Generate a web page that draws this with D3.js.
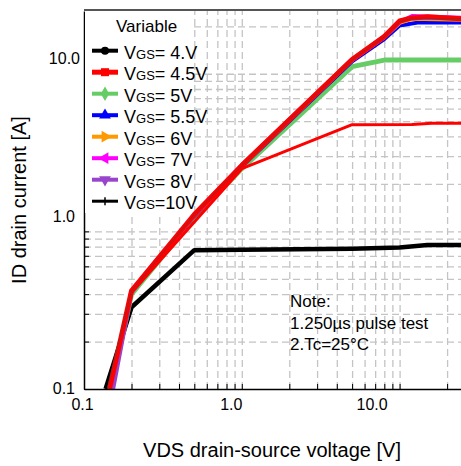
<!DOCTYPE html>
<html>
<head>
<meta charset="utf-8">
<script src="https://cdn.jsdelivr.net/npm/d3@7"></script>
<style>
  body { margin: 0; background: #fff; }
  text { font-family: "Liberation Sans", Arial, sans-serif; fill: #000; }
</style>
</head>
<body>
<div id="chart"></div>
<script>
// values (VDS in V, ID in A)
var vgsNames = ["= 4.V", "= 4.5V", "= 5V", "= 5.5V", "= 6V", "= 7V", "= 8V", "=10V"];

var vds4 = [0.137, 0.2, 0.5, 1, 5, 10, 15, 25];
var id4 = [0.1, 0.33, 0.76, 0.765, 0.775, 0.79, 0.82, 0.82];

var vds45 = [0.145, 0.2, 1, 5, 12, 16, 25];
var id45 = [0.1, 0.41, 2.5, 4.75, 4.77, 4.85, 4.85];

var vds5 = [0.148, 0.2, 0.5, 1, 5, 8, 25];
var id5 = [0.1, 0.40, 1.22, 2.5, 11.1, 12.2, 12.2];

var vds55 = [0.15, 0.2, 0.5, 1, 5, 8, 10, 13, 25];
var id55 = [0.1, 0.41, 1.25, 2.58, 12.0, 16.6, 20.2, 21.1, 21.1];

var vds6 = [0.15, 0.2, 0.5, 1, 5, 8, 10, 12, 25];
var id6 = [0.1, 0.41, 1.26, 2.6, 12.2, 17.0, 21.0, 22.3, 22.0];

var vds7 = [0.15, 0.2, 0.5, 1, 5, 8, 10, 12, 25];
var id7 = [0.1, 0.42, 1.27, 2.62, 12.3, 17.2, 21.3, 23.2, 22.6];

var vds8 = [0.153, 0.2, 0.5, 1, 5, 8, 10, 12, 25];
var id8 = [0.1, 0.41, 1.27, 2.63, 12.3, 17.3, 21.5, 22.7, 22.4];

var vds10 = [0.14, 0.2, 0.5, 1, 5, 8, 10, 12, 25];
var id10 = [0.1, 0.42, 1.28, 2.62, 12.3, 17.2, 21.4, 22.5, 22.3];

// thick red trace lying on top of the bundle
var vdsTop = [0.145, 0.2, 0.5, 1, 5, 8, 10, 12, 15, 25];
var idTop = [0.1, 0.42, 1.28, 2.62, 12.3, 17.2, 21.6, 22.6, 23.0, 22.3];

var xTickValues = [0.1, 1, 10];
var xTickLabels = ["0.1", "1.0", "10.0"];
var yTickValues = [0.1, 1, 10];
var yTickLabels = ["0.1", "1.0", "10.0"];

var noteLines = ["Note:", "1.250\u00b5s pulse test", "2.Tc=25\u00b0C"];

// ---------------------------------------------------------------
var margin = {top: 11, right: 0, bottom: 77, left: 84};
var width = 461 - margin.left - margin.right;
var height = 466 - margin.top - margin.bottom;

var root = d3.select("#chart")
  .append("svg")
  .attr("width", 461)
  .attr("height", 466);

root.append("rect").attr("width", 461).attr("height", 466).attr("fill", "#fff");

var svg = root.append("g")
  .attr("transform", "translate(" + margin.left + "," + margin.top + ")");

var x = d3.scaleLog().domain([0.1, 24.5]).range([0, width]);
var y = d3.scaleLog().domain([0.1, 25]).range([height, 0]);

// dashed grid
svg.append("g")
  .attr("class", "grid")
  .attr("transform", "translate(0," + height + ")")
  .call(d3.axisBottom(x).tickValues(x.ticks().filter(function(d) { return d > 0.1; }))
    .tickSize(-height).tickFormat(""));
svg.append("g")
  .attr("class", "grid")
  .call(d3.axisLeft(y).tickValues(y.ticks().filter(function(d) { return d > 0.1; }))
    .tickSize(-width).tickFormat(""));
svg.selectAll(".grid .domain").remove();
svg.selectAll(".grid line")
  .attr("stroke", "#c4c4c4")
  .attr("stroke-width", 1.3)
  .attr("stroke-dasharray", "7,4");

// legend background hides the grid
root.append("rect")
  .attr("x", 85).attr("y", 11)
  .attr("width", 107).attr("height", 202)
  .attr("fill", "#fff");

// curves
svg.append("clipPath").attr("id", "clip")
  .append("rect").attr("width", width).attr("height", height);

var line = d3.line()
  .x(function(d) { return x(d[0]); })
  .y(function(d) { return y(d[1]); });

var curves = [
  {vds: vds4, id: id4, color: "#000000", w: 4.5},
  {vds: vds5, id: id5, color: "#66cc66", w: 5},
  {vds: vds55, id: id55, color: "#0000ff", w: 4},
  {vds: vds6, id: id6, color: "#ff9900", w: 4},
  {vds: vds7, id: id7, color: "#ff00ff", w: 4},
  {vds: vds8, id: id8, color: "#9944cc", w: 4},
  {vds: vdsTop, id: idTop, color: "#ff0000", w: 5},
  {vds: vds45, id: id45, color: "#ff0000", w: 3},
  {vds: vds10, id: id10, color: "#444444", w: 0.6}
];

var plot = svg.append("g").attr("clip-path", "url(#clip)");
curves.forEach(function(c) {
  plot.append("path")
    .datum(d3.zip(c.vds, c.id))
    .attr("fill", "none")
    .attr("stroke", c.color)
    .attr("stroke-width", c.w)
    .attr("stroke-linejoin", "round")
    .attr("d", line);
});

// frame
svg.append("line")
  .attr("x1", 0).attr("x2", width)
  .attr("y1", -1).attr("y2", -1)
  .attr("stroke", "#555").attr("stroke-width", 2);

var xAxis = svg.append("g")
  .attr("transform", "translate(0," + height + ")")
  .call(d3.axisBottom(x).tickValues(x.ticks()).tickSize(-5).tickSizeOuter(0).tickFormat(""));
var yAxis = svg.append("g")
  .call(d3.axisLeft(y).tickValues(y.ticks()).tickSize(-5).tickSizeOuter(0).tickFormat(""));
svg.selectAll(".domain").attr("stroke", "#000").attr("stroke-width", 1.5);

// tick labels (sit a bit off their ticks in the original)
var xShift = [-2, -11, -28];
var xLab = svg.append("g")
  .attr("transform", "translate(0," + height + ")")
  .call(d3.axisBottom(x).tickValues(xTickValues).tickSize(0).tickPadding(10)
    .tickFormat(function(d, i) { return xTickLabels[i]; }));
xLab.select(".domain").remove();
xLab.selectAll("text")
  .attr("font-size", 16)
  .attr("font-family", "Liberation Sans, Arial, sans-serif")
  .attr("fill", "#000")
  .attr("dx", function(d, i) { return xShift[i]; });

var yShiftX = [-5, -5, 0];
var yShiftY = [-1, -15, -15];
var yLab = svg.append("g")
  .call(d3.axisLeft(y).tickValues(yTickValues).tickSize(0).tickPadding(4)
    .tickFormat(function(d, i) { return yTickLabels[i]; }));
yLab.select(".domain").remove();
yLab.selectAll("text")
  .attr("font-size", 16)
  .attr("font-family", "Liberation Sans, Arial, sans-serif")
  .attr("fill", "#000")
  .attr("dx", function(d, i) { return yShiftX[i]; })
  .attr("transform", function(d, i) { return "translate(0," + yShiftY[i] + ")"; });

// axis titles
root.append("text")
  .attr("x", 272).attr("y", 457)
  .attr("text-anchor", "middle")
  .attr("font-size", 20)
  .text("VDS drain-source voltage [V]");

root.append("text")
  .attr("transform", "translate(26,200) rotate(-90)")
  .attr("text-anchor", "middle")
  .attr("font-size", 20)
  .text("ID drain current [A]");

// note
root.append("g").selectAll("text")
  .data(noteLines)
  .join("text")
  .attr("x", 290)
  .attr("y", function(d, i) { return 307 + i * 21.5; })
  .attr("font-size", 17)
  .text(function(d) { return d; });

// legend
var legend = root.append("g");
legend.append("text")
  .attr("x", 116).attr("y", 32)
  .attr("font-size", 17)
  .text("Variable");

var legendStyle = [
  {color: "#000000", w: 4, sym: d3.symbolCircle, size: 50, rot: 0},
  {color: "#ff0000", w: 5, sym: d3.symbolSquare, size: 64, rot: 0},
  {color: "#66cc66", w: 4, sym: d3.symbolDiamond, size: 60, rot: 0},
  {color: "#0000ff", w: 4, sym: d3.symbolTriangle, size: 60, rot: 0},
  {color: "#ff9900", w: 4, sym: d3.symbolTriangle, size: 60, rot: 90},
  {color: "#ff00ff", w: 4, sym: d3.symbolTriangle, size: 60, rot: -90},
  {color: "#9944cc", w: 4, sym: d3.symbolTriangle, size: 60, rot: 180},
  {color: "#000000", w: 3, sym: null, size: 0, rot: 0}
];

var rows = legend.selectAll(".row")
  .data(vgsNames)
  .join("g")
  .attr("class", "row")
  .attr("transform", function(d, i) { return "translate(0," + (50.7 + i * 21.5) + ")"; });

rows.append("line")
  .attr("x1", 92).attr("x2", 118)
  .attr("stroke", function(d, i) { return legendStyle[i].color; })
  .attr("stroke-width", function(d, i) { return legendStyle[i].w; });

rows.each(function(d, i) {
  var s = legendStyle[i];
  var g = d3.select(this);
  if (s.sym) {
    g.append("path")
      .attr("d", d3.symbol().type(s.sym).size(s.size))
      .attr("transform", "translate(105,0) rotate(" + s.rot + ")")
      .attr("fill", s.color);
  } else {
    g.append("line")
      .attr("x1", 105).attr("x2", 105)
      .attr("y1", -4).attr("y2", 4)
      .attr("stroke", s.color).attr("stroke-width", 1.5);
  }
});

var labels = rows.append("text")
  .attr("x", 124).attr("y", 8)
  .attr("font-size", 18);
labels.append("tspan").text("V");
labels.append("tspan").attr("font-size", 13).text("GS");
labels.append("tspan").text(function(d) { return d; });
</script>
</body>
</html>
